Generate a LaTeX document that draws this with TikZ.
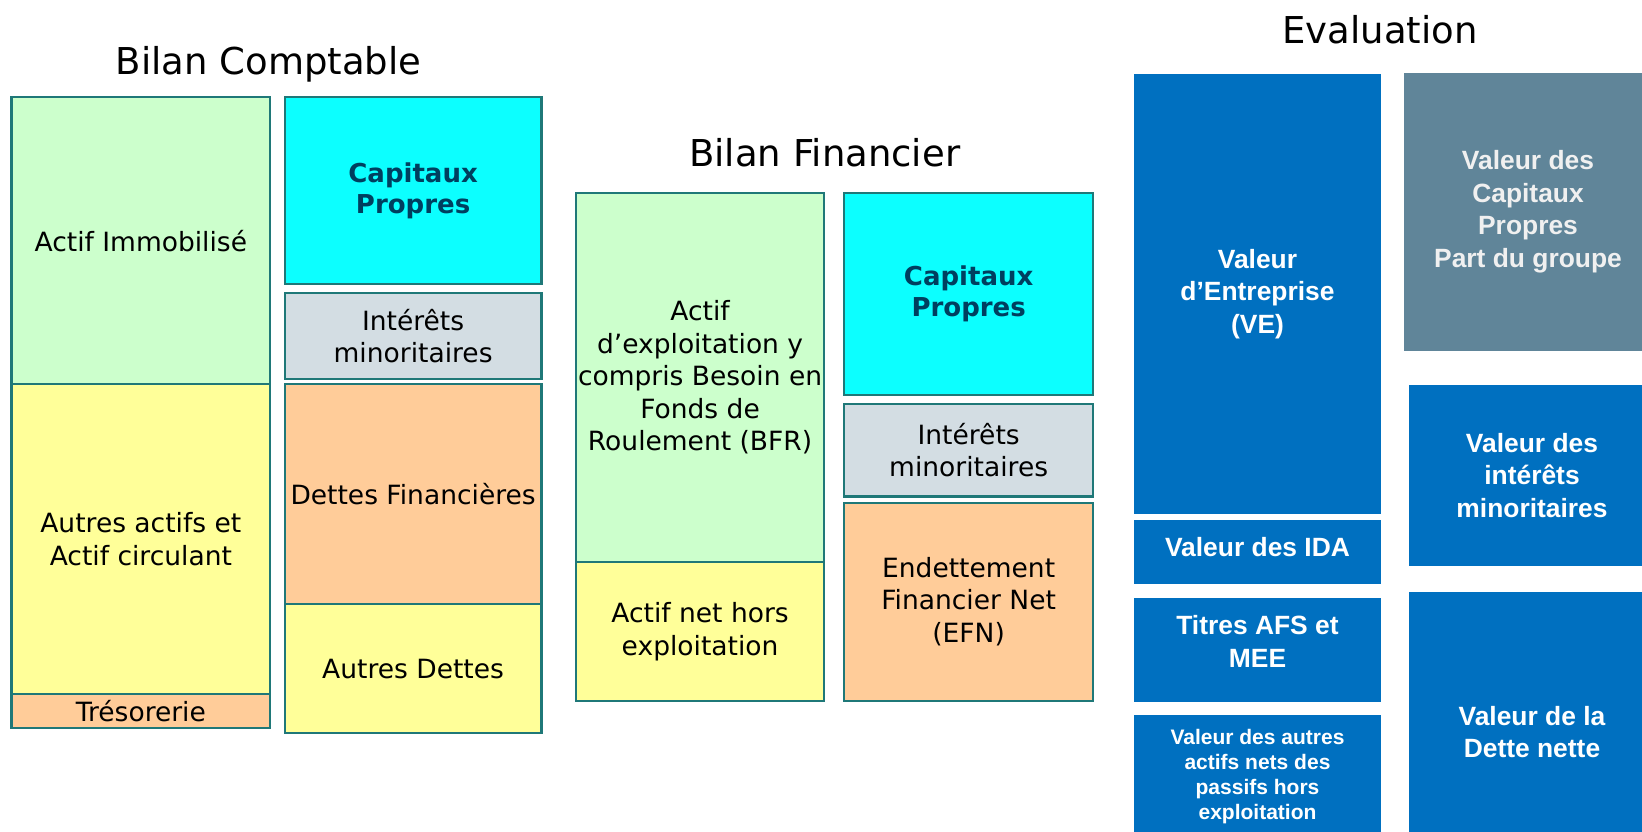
\documentclass[tikz,border=0pt]{standalone}
\usepackage{fontspec}
\setmainfont{DejaVu Sans}
\newfontfamily\evalfont{Liberation Sans}

\definecolor{edge}{HTML}{1F7878}
\definecolor{vert}{HTML}{CCFFCC}
\definecolor{jaune}{HTML}{FFFF99}
\definecolor{peche}{HTML}{FFCC99}
\definecolor{cyanvif}{HTML}{0CFFFF}
\definecolor{grisbleu}{HTML}{D3DDE3}
\definecolor{cpbleu}{HTML}{003F5F}
\definecolor{bleuval}{HTML}{0070C0}
\definecolor{ardoise}{HTML}{608599}

\tikzset{
  cell/.style={draw=edge, line width=2.2pt, inner sep=0pt, align=center,
    text=black, font=\fontsize{26.5}{32.5}\selectfont},
  cpcell/.style={cell, fill=cyanvif, text=cpbleu,
    font=\fontsize{26}{31}\selectfont\bfseries},
  valbox/.style={fill=bleuval, inner sep=0pt, align=center, text=white,
    font=\evalfont\bfseries\fontsize{26.4}{32.5}\selectfont},
  valtxt/.style={inner sep=0pt, align=center, text=white,
    font=\evalfont\bfseries\fontsize{26.4}{32.5}\selectfont},
  heading/.style={anchor=base, inner sep=0pt, font=\fontsize{37}{44}\selectfont}
}

\begin{document}
\begin{tikzpicture}[x=1pt, y=-1pt]
\useasboundingbox (0,0) rectangle (1642,832);

% ---- Bilan comptable ----
\node[heading] (t1) at (268.6,74.3) {Bilan Comptable};
\node[cell, fill=vert, minimum width=258.7pt, minimum height=286.9pt] (ai) at (140.85,240.85) {Actif Immobilisé};
\node[cell, fill=jaune, minimum width=258.7pt, minimum height=310pt] (aa) at (140.85,539.3) {Autres actifs et\\Actif circulant};
\node[cell, fill=peche, minimum width=258.7pt, minimum height=33.4pt] (tr) at (140.85,711) {Trésorerie};
\node[cpcell, minimum width=256.6pt, minimum height=186.4pt] (cp) at (413.1,190.6) {Capitaux\\Propres};
\node[cell, fill=grisbleu, minimum width=256.6pt, minimum height=85.9pt] (im) at (413.1,336.15) {Intérêts\\minoritaires};
\node[cell, fill=peche, minimum width=256.6pt, minimum height=219.9pt] (df) at (413.1,494.25) {Dettes Financières};
\node[cell, fill=jaune, minimum width=256.6pt, minimum height=128.8pt] (ad) at (413.1,668.6) {Autres Dettes};

% ---- Bilan financier ----
\node[heading] (t2) at (824.7,166.5) {Bilan Financier};
\node[cell, fill=vert, minimum width=248.1pt, minimum height=369.6pt] (ae) at (700.05,377.5) {Actif\\d’exploitation y\\compris Besoin en\\Fonds de\\Roulement (BFR)};
\node[cell, fill=jaune, minimum width=248.1pt, minimum height=138.3pt] (anh) at (700.05,631.45) {Actif net hors\\exploitation};
\node[cpcell, minimum width=249.3pt, minimum height=202.1pt] (cp2) at (968.65,293.75) {Capitaux\\Propres};
\node[cell, fill=grisbleu, minimum width=249.3pt, minimum height=92.2pt] (im2) at (968.65,450.3) {Intérêts\\minoritaires};
\node[cell, fill=peche, minimum width=249.3pt, minimum height=197.9pt] (efn) at (968.65,601.65) {Endettement\\Financier Net\\(EFN)};

% ---- Evaluation ----
\node[heading] (t3) at (1380.2,44) {Evaluation};
\node[valbox, minimum width=247pt, minimum height=440pt] (ve) at (1257.5,294) {Valeur\\d’Entreprise\\(VE)};
\node[valbox, minimum width=247pt, minimum height=63.7pt,
  label={[valtxt, yshift=5pt]center:Valeur des IDA}] (ida) at (1257.5,551.85) {};
\node[valbox, minimum width=247pt, minimum height=103.7pt,
  label={[valtxt, yshift=8.5pt]center:{Titres AFS et\\MEE}}] (titres) at (1257.5,649.85) {};
\node[valbox, minimum width=247pt, minimum height=124pt,
  font=\evalfont\bfseries\fontsize{21}{25}\selectfont] (autres) at (1257.5,777) {Valeur des autres\\actifs nets des\\passifs hors\\exploitation};
\node[valbox, fill=ardoise, text=white!94!black, minimum width=248pt, minimum height=277.7pt] (vcp) at (1528,211.85) {Valeur des\\Capitaux\\Propres\\Part du groupe};
\node[valbox, minimum width=246pt, minimum height=180.7pt] (vim) at (1532,475.35) {Valeur des\\intérêts\\minoritaires};
\node[valbox, minimum width=246pt, minimum height=280pt] (vdn) at (1532,732) {Valeur de la\\Dette nette};
\end{tikzpicture}
\end{document}
